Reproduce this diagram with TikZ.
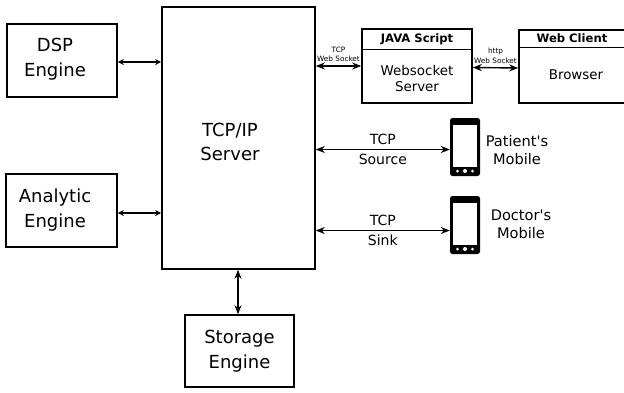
\documentclass[tikz,border=0pt]{standalone}
\usepackage{fontspec}
\setmainfont{DejaVu Sans}
\usetikzlibrary{positioning, calc, arrows.meta}

\begin{document}
\begin{tikzpicture}[
    x=1pt, y=-1pt,
    box/.style={rectangle, draw=black, line width=1.6pt, fill=white, align=center, inner sep=0pt},
    head/.style={rectangle, draw=black, line width=0.9pt, inner sep=0pt, font=\fontsize{11.6}{13}\selectfont\bfseries},
    arrow/.style={{Stealth[length=6pt,width=6pt]}-{Stealth[length=6pt,width=6pt]}, line width=1.1pt},
    bigarrow/.style={{Stealth[length=9pt,width=7pt]}-{Stealth[length=9pt,width=7pt]}, line width=1.4pt},
    big/.style={font=\fontsize{18}{24.5}\selectfont, align=center},
    mid/.style={font=\fontsize{13.4}{16}\selectfont, align=center},
    side/.style={font=\fontsize{14.6}{18}\selectfont, align=center},
    tiny/.style={font=\fontsize{7.3}{9.5}\selectfont, align=center, inner sep=0pt},
    label/.style={font=\fontsize{14}{16}\selectfont, inner sep=0pt},
    phone/.style={rectangle, rounded corners=2.5pt, fill=black, minimum width=30pt, minimum height=58pt, inner sep=0pt},
    screen/.style={rectangle, fill=white, minimum width=24pt, minimum height=42pt, inner sep=0pt},
    dot/.style={circle, fill=white, inner sep=0pt}
]
    \useasboundingbox (0,0) rectangle (624,392);

    % Engines
    \node[box, minimum width=110pt, minimum height=73pt] (dsp) at (62,60.5) {};
    \node[big] (dsptext) at (55,59) {DSP\\Engine};
    \node[box, minimum width=111pt, minimum height=73pt] (analytic) at (61.5,210.5) {};
    \node[big] (analytictext) at (55,210) {Analytic\\Engine};
    \node[box, big, minimum width=109pt, minimum height=72pt] (storage) at (239.5,351) {Storage\\Engine};

    % Server
    \node[box, minimum width=153pt, minimum height=262pt] (server) at (238.5,138) {};
    \node[big] (servertext) at (230,142) {TCP/IP\\Server};

    % Web side
    \node[box, minimum width=110pt, minimum height=74pt] (js) at (417,66) {};
    \node[head, anchor=north, minimum width=110pt, minimum height=21pt] (jshead) at (js.north) {JAVA Script};
    \node[mid] (jstext) at (417,78) {Websocket\\Server};
    \node[box, minimum width=106pt, minimum height=73pt] (web) at (572,66.5) {};
    \node[head, anchor=north, minimum width=106pt, minimum height=18pt] (webhead) at (web.north) {Web Client};
    \node[mid] (webtext) at (576,75) {Browser};

    % Mobiles
    \foreach \name/\y in {patient/147, doctor/225} {
        \node[phone] (\name) at (465,\y) {};
        \node[screen] (\name-screen) at (465,\y-1) {};
        \node[dot, minimum size=3pt] (\name-a) at (457.5,\y+24) {};
        \node[dot, minimum size=4pt] (\name-b) at (465,\y+24) {};
        \node[dot, minimum size=3pt] (\name-c) at (472.5,\y+24) {};
    }
    \node[side] (patienttext) at (517,150) {Patient\textquotesingle s\\Mobile};
    \node[side] (doctortext) at (521,224) {Doctor\textquotesingle s\\Mobile};

    % Connections
    \draw[arrow] ([yshift=-1.5pt]dsp.east) -- ([yshift=-1.5pt]dsp.east -| server.west);
    \draw[arrow] ([yshift=-2.5pt]analytic.east) -- ([yshift=-2.5pt]analytic.east -| server.west);
    \draw[bigarrow] (server.south -| storage.north) ++(-1.5,0) -- ([xshift=-1.5pt]storage.north);
    \draw[bigarrow] (server.east |- js.west) -- (js.west)
        node[tiny, midway, above=3.5pt] (tcpws) {TCP\\Web Socket};
    \draw[bigarrow] ([yshift=-1.5pt]js.east) -- ([yshift=-1.5pt]web.west)
        node[tiny, midway, above=3.5pt] (httpws) {http\\Web Socket};
    \draw[bigarrow] ([yshift=-2.5pt]patient.west -| server.east) -- ([yshift=-2.5pt]patient.west)
        node[label, midway, above=4pt] (tcpa) {TCP}
        node[label, midway, below=4pt] (source) {Source};
    \draw[bigarrow] ([yshift=-5.5pt]doctor.west -| server.east) -- ([yshift=-5.5pt]doctor.west)
        node[label, midway, above=4pt] (tcpb) {TCP}
        node[label, midway, below=4pt] (sink) {Sink};

\end{tikzpicture}
\end{document}
